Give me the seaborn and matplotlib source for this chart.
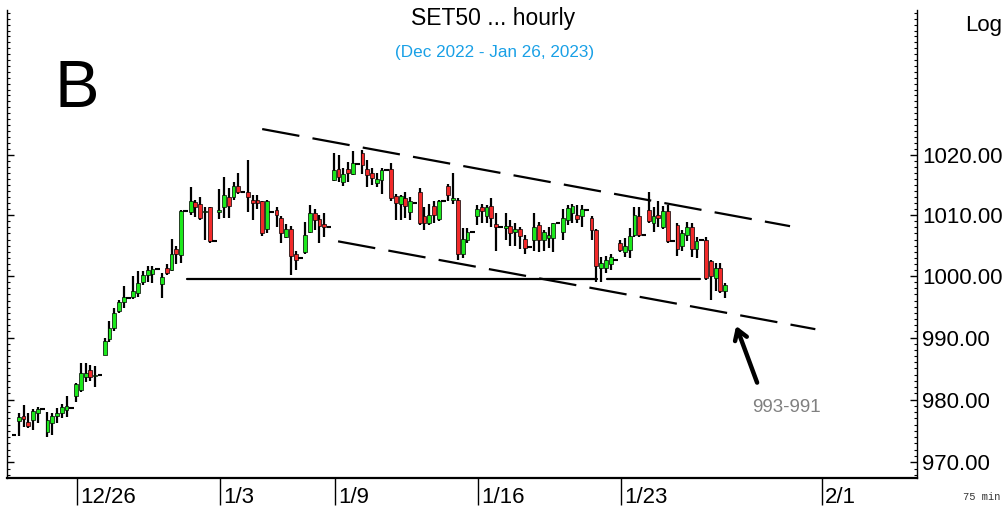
import numpy as np
import pandas as pd
import matplotlib
matplotlib.use('Agg')
import matplotlib.pyplot as plt
import seaborn as sns
from matplotlib.ticker import FixedLocator, MultipleLocator, NullFormatter, FormatStrFormatter

# trading sessions (first one only shows its closing bar), 6 hourly bars per session
sessions = ['12/21', '12/22', '12/23', '12/26', '12/27', '12/28', '12/29', '12/30',
            '1/3', '1/4', '1/5', '1/6', '1/9', '1/10', '1/11', '1/12', '1/13',
            '1/16', '1/17', '1/18', '1/19', '1/20', '1/23', '1/24', '1/25', '1/26',
            '1/27', '1/30', '1/31', '2/1']
tick_dates = ['12/26', '1/3', '1/9', '1/16', '1/23', '2/1']

opens = [974.3,
         976.5, 977.3, 976.4, 976.8, 977.9, 978.5,
         974.8, 976.2, 977.3, 977.8, 978.3, 978.7,
         980.5, 981.5, 983.7, 984.8, 983.8, 983.9,
         987.2, 989.8, 991.5, 994.3, 995.8, 996.5,
         996.6, 997.2, 999.1, 1000.2, 1000.4, 1001.2,
         998.7, 1001.3, 1001.0, 1004.5, 1003.4, 1010.7,
         1010.6, 1012.2, 1011.9, 1010.5, 1011.3, 1005.8,
         1010.5, 1011.4, 1013.0, 1013.0, 1014.9, 1013.9,
         1013.9, 1012.5, 1012.6, 1012.3, 1007.8, 1010.6,
         1010.9, 1009.6, 1006.4, 1007.8, 1003.6, 1002.9,
         1003.9, 1007.3, 1010.3, 1009.4, 1008.6, 1008.0,
         1015.9, 1017.7, 1015.5, 1017.6, 1016.8, 1018.5,
         1020.4, 1017.7, 1017.0, 1015.4, 1015.9, 1017.5,
         1017.6, 1013.2, 1011.9, 1012.8, 1010.6, 1012.1,
         1013.9, 1009.9, 1008.8, 1011.6, 1009.4, 1012.3,
         1014.9, 1012.5, 1012.5, 1003.6, 1006.0, 1007.2,
         1009.8, 1011.3, 1009.9, 1011.6, 1008.6, 1008.1,
         1007.9, 1008.2, 1007.3, 1007.7, 1006.1, 1004.7,
         1006.0, 1008.4, 1006.0, 1006.3, 1006.3, 1008.7,
         1007.3, 1009.2, 1010.4, 1010.0, 1009.8, 1010.9,
         1009.6, 1007.6, 1001.3, 1001.4, 1001.9, 1002.7,
         1005.5, 1004.0, 1004.3, 1006.8, 1009.8, 1006.8,
         1010.9, 1008.7, 1010.1, 1008.1, 1010.7, 1005.7,
         1008.4, 1004.9, 1006.8, 1008.0, 1004.4, 1006.0,
         1006.0, 1002.5, 999.7, 1001.3, 997.5]
highs = [974.3,
         977.8, 979.1, 977.8, 978.5, 978.8, 978.5,
         978.0, 977.8, 978.6, 979.3, 980.5, 978.7,
         982.6, 985.9, 985.9, 985.6, 985.4, 983.9,
         990.0, 992.7, 994.8, 996.1, 998.3, 996.5,
         1000.0, 1000.8, 1000.8, 1001.6, 1001.6, 1001.2,
         1000.5, 1001.9, 1006.1, 1004.9, 1010.9, 1010.7,
         1014.6, 1012.6, 1013.1, 1011.4, 1011.4, 1005.8,
         1014.4, 1016.3, 1014.5, 1015.5, 1017.0, 1013.9,
         1019.1, 1013.3, 1013.3, 1012.4, 1012.6, 1010.6,
         1011.4, 1009.9, 1008.6, 1008.3, 1004.1, 1002.9,
         1008.9, 1011.7, 1011.0, 1010.1, 1010.4, 1008.0,
         1020.3, 1020.0, 1017.8, 1018.9, 1020.6, 1018.5,
         1020.8, 1019.1, 1017.8, 1017.0, 1017.8, 1017.5,
         1018.6, 1013.6, 1013.3, 1013.9, 1013.1, 1012.1,
         1014.5, 1011.4, 1011.9, 1012.3, 1012.6, 1012.3,
         1015.2, 1017.0, 1012.8, 1007.9, 1007.9, 1007.2,
         1011.7, 1011.9, 1011.7, 1012.8, 1010.4, 1008.1,
         1010.4, 1009.2, 1008.7, 1008.1, 1006.8, 1004.7,
         1010.4, 1008.9, 1007.6, 1008.1, 1008.8, 1008.7,
         1011.0, 1011.7, 1011.8, 1011.7, 1011.7, 1010.9,
         1009.8, 1007.8, 1003.1, 1003.3, 1003.6, 1002.7,
         1006.0, 1006.3, 1007.9, 1011.3, 1011.4, 1006.8,
         1013.9, 1011.3, 1012.3, 1011.6, 1011.7, 1005.7,
         1008.7, 1007.6, 1008.9, 1008.7, 1006.4, 1006.0,
         1006.4, 1002.7, 1002.2, 1002.2, 998.9]
lows = [974.3,
        974.1, 975.6, 975.4, 975.1, 976.2, 978.5,
        974.0, 974.3, 976.2, 977.0, 977.2, 978.7,
        979.6, 981.2, 982.8, 983.0, 982.0, 983.9,
        987.1, 989.3, 991.0, 993.9, 994.8, 996.5,
        996.3, 996.6, 998.6, 999.1, 998.9, 1001.2,
        996.5, 1000.2, 1000.8, 1001.9, 1002.2, 1010.7,
        1010.0, 1009.7, 1009.2, 1006.0, 1005.5, 1005.8,
        1009.4, 1009.5, 1009.5, 1012.5, 1013.5, 1013.9,
        1010.6, 1009.2, 1011.0, 1006.6, 1007.0, 1010.6,
        1008.1, 1005.5, 1006.3, 1000.2, 1001.0, 1002.9,
        1003.6, 1007.0, 1007.6, 1005.5, 1006.4, 1008.0,
        1015.7, 1015.5, 1014.9, 1015.5, 1016.7, 1018.5,
        1016.9, 1014.7, 1015.0, 1014.7, 1013.6, 1017.5,
        1012.3, 1009.2, 1009.2, 1009.5, 1009.2, 1012.1,
        1008.4, 1007.6, 1008.4, 1008.7, 1009.1, 1012.3,
        1012.3, 1011.9, 1002.7, 1002.9, 1005.5, 1007.2,
        1008.4, 1008.7, 1008.7, 1008.1, 1004.1, 1008.1,
        1006.0, 1004.9, 1005.0, 1004.4, 1003.6, 1004.7,
        1004.1, 1003.9, 1004.1, 1004.6, 1003.9, 1008.7,
        1006.0, 1008.4, 1008.7, 1008.7, 1008.1, 1010.9,
        1006.0, 999.1, 999.1, 1000.5, 1001.0, 1002.7,
        1003.9, 1003.1, 1002.9, 1006.4, 1006.4, 1006.8,
        1008.7, 1007.3, 1008.1, 1007.8, 1005.5, 1005.7,
        1003.3, 1004.1, 1005.7, 1003.1, 1003.0, 1006.0,
        999.4, 996.1, 997.5, 997.2, 996.4]
closes = [974.3,
          977.2, 976.9, 975.8, 978.2, 978.5, 978.5,
          976.7, 977.4, 977.9, 978.8, 978.9, 978.7,
          982.5, 984.2, 984.2, 983.7, 984.0, 983.9,
          989.4, 991.5, 993.9, 995.8, 996.6, 996.5,
          997.5, 998.9, 1000.1, 1001.0, 1001.2, 1001.2,
          999.8, 1000.5, 1003.7, 1003.7, 1010.7, 1010.7,
          1012.3, 1011.3, 1009.6, 1010.7, 1005.7, 1005.8,
          1010.9, 1013.3, 1011.6, 1014.9, 1013.8, 1013.9,
          1013.0, 1012.1, 1012.1, 1007.0, 1012.3, 1010.6,
          1010.0, 1007.0, 1007.8, 1003.3, 1002.7, 1002.9,
          1006.8, 1010.3, 1009.3, 1008.2, 1008.0, 1008.0,
          1017.5, 1016.4, 1016.9, 1017.0, 1018.7, 1018.5,
          1018.3, 1016.6, 1016.2, 1016.0, 1017.5, 1017.5,
          1012.8, 1012.1, 1013.2, 1011.6, 1012.3, 1012.1,
          1008.8, 1008.8, 1010.1, 1010.1, 1012.4, 1012.3,
          1013.3, 1012.9, 1003.6, 1006.1, 1007.2, 1007.2,
          1011.0, 1010.7, 1011.3, 1009.6, 1008.1, 1008.1,
          1008.2, 1007.0, 1007.7, 1006.5, 1004.6, 1004.7,
          1008.1, 1006.0, 1007.3, 1006.8, 1008.7, 1008.7,
          1009.6, 1011.2, 1011.6, 1009.4, 1011.0, 1010.9,
          1007.6, 1001.6, 1002.2, 1002.7, 1003.1, 1002.7,
          1004.3, 1004.9, 1006.6, 1010.1, 1006.8, 1006.8,
          1009.0, 1009.8, 1009.6, 1010.7, 1005.7, 1005.7,
          1004.4, 1007.0, 1008.0, 1004.4, 1005.8, 1006.0,
          999.7, 1000.0, 1001.3, 997.5, 998.6]

# hand drawn lines (bar index, price)
upper_channel_x = [52.0, 162.6]
upper_channel_y = [1024.35, 1008.2]
lower_channel_x = [67.9, 167.9]
lower_channel_y = [1005.7, 991.35]
support_level = 999.6
support_segments = [(36.3, 122.2), (124.3, 143.8)]
arrow_tip = (151.1, 992.3)
arrow_tail = (155.9, 982.3)
target_text = '993-991'

df = pd.DataFrame({'open': opens, 'high': highs, 'low': lows, 'close': closes})
df['idx'] = np.arange(len(df))

def first_bar(k):
    return max(6 * k - 5, 0)

tick_pos = [first_bar(sessions.index(d)) + 0.2 for d in tick_dates]

sns.set_style('white')
plt.rcParams['font.family'] = ['Liberation Sans', 'DejaVu Sans']
plt.rcParams['text.color'] = 'black'
plt.rcParams['xtick.color'] = 'black'
plt.rcParams['ytick.color'] = 'black'

fig = plt.figure(figsize=(10.08, 5.11), dpi=100)
ax = fig.add_axes([7 / 1008, 33 / 511, 910 / 1008, 468 / 511])
ax.set_yscale('log')

green = '#1CE81C'
red = '#F22A2A'

# wicks
ax.vlines(df['idx'], df['low'], df['high'], color='black', lw=1.6, zorder=2)

up = df[df['close'] > df['open']]
down = df[df['close'] < df['open']]
flat = df[df['close'] == df['open']]
ax.bar(up['idx'], up['close'] - up['open'], bottom=up['open'], width=0.8,
       color=green, edgecolor='black', linewidth=0.5, zorder=3)
ax.bar(down['idx'], down['close'] - down['open'], bottom=down['open'], width=0.8,
       color=red, edgecolor='black', linewidth=0.5, zorder=3)
ax.hlines(flat['close'], flat['idx'] - 0.5, flat['idx'] + 0.5, color='black', lw=1.5, zorder=3)

# support + channel
for x0, x1 in support_segments:
    ax.plot([x0, x1], [support_level, support_level], color='black', lw=1.6)
ax.plot(upper_channel_x, upper_channel_y, color='black', lw=1.6, dashes=(17, 6))
ax.plot(lower_channel_x, lower_channel_y, color='black', lw=1.6, dashes=(17, 6))

ax.annotate('', xy=arrow_tip, xytext=arrow_tail,
            arrowprops=dict(arrowstyle='->, head_length=0.7, head_width=0.45', lw=3.2, color='black'))
ax.text(arrow_tail[0] - 1.2, 978.8, target_text, fontsize=13.5, color='#808080', ha='left', va='center')

ax.set_xlim(-1.47, 189.2)
ax.set_ylim(967.5, 1044.5)

ax.yaxis.set_major_locator(FixedLocator([970, 980, 990, 1000, 1010, 1020]))
ax.yaxis.set_major_formatter(FormatStrFormatter('%.2f'))
ax.yaxis.set_minor_locator(MultipleLocator(1))
ax.yaxis.set_minor_formatter(NullFormatter())
ax.tick_params(axis='y', which='major', direction='in', length=5, width=1, color='black',
               left=True, right=True, labelleft=False, labelright=True, labelsize=16,
               labelcolor='black', pad=3.5)
ax.tick_params(axis='y', which='minor', direction='in', length=2.5, width=0.8, color='black',
               left=True, right=True)

ax.set_xticks(tick_pos)
ax.set_xticklabels([])
ax.tick_params(axis='x', which='major', direction='out', length=19.5, width=1, color='black',
               bottom=True, labelbottom=False)
for pos, lab in zip(tick_pos, tick_dates):
    ax.annotate(lab, xy=(pos, -0.041), xycoords=('data', 'axes fraction'),
                xytext=(2.5, 0), textcoords='offset points', ha='left', va='center',
                fontsize=16, color='black', annotation_clip=False)

for side in ['left', 'right', 'bottom']:
    ax.spines[side].set_color('black')
    ax.spines[side].set_linewidth(1.0)
ax.spines['bottom'].set_linewidth(1.6)
ax.spines['top'].set_visible(False)
ax.grid(False)

fig.text(493 / 1008, 1 - 18 / 511, 'SET50 ... hourly', ha='center', va='center', fontsize=16.5)
fig.text(495 / 1008, 1 - 52 / 511, '(Dec 2022 - Jan 26, 2023)', ha='center', va='center',
         fontsize=12.3, color='#19A0E6')
fig.text(55 / 1008, 1 - 107 / 511, 'B', ha='left', va='baseline', fontsize=48)
fig.text(965 / 1008, 1 - 25 / 511, 'Log', ha='left', va='center', fontsize=16)
fig.text(963 / 1008, 1 - 497 / 511, '75 min', ha='left', va='center', fontsize=7.5,
         family='Liberation Mono', color='#333333')

fig.savefig('out.png', dpi=100)
